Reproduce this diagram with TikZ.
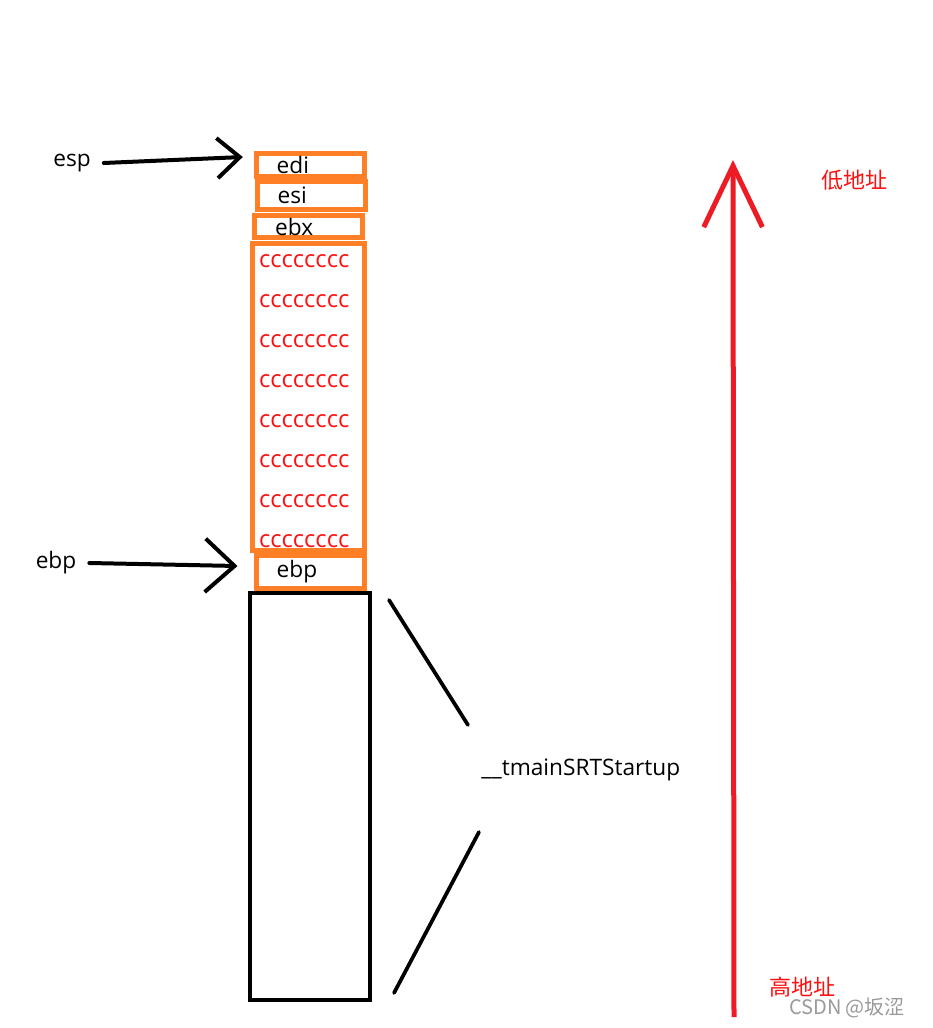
\documentclass[tikz,border=0pt]{standalone}
\usepackage{fontspec}
\setmainfont{Open Sans}
\newfontfamily\cjk{Noto Sans CJK SC}
\usetikzlibrary{arrows.meta}
\definecolor{boxorange}{HTML}{FF7F27}
\definecolor{addrred}{HTML}{ED1C24}
\definecolor{ccred}{HTML}{FF1010}

\begin{document}
\begin{tikzpicture}[x=0.75pt,y=-0.75pt,line width=3pt,
  font=\fontsize{17}{20}\selectfont,
  regbox/.style={draw=boxorange,line width=3.75pt,text width=50pt,
    inner xsep=15.5pt,inner ysep=0pt,align=left,minimum height=#1},
  ccrow/.style={text=ccred,anchor=west,inner sep=0pt,font=\fontsize{17.8}{20}\selectfont},
  ptr/.style={line cap=round,-{Straight Barb[length=#1]}},
  cnlabel/.style={text=ccred,font=\cjk\fontsize{16.5}{18}\selectfont}]
\useasboundingbox (0,0) rectangle (932,1028);
% 栈帧（低地址在上）
\node[regbox=17.25pt] (edi) at (310,165) {edi};
\node[regbox=21pt] (esi) at (311,195.5) {esi};
\node[regbox=16.5pt] (ebx) at (308.5,226.5) {ebx};
\node[draw=boxorange,line width=3.75pt,minimum width=84pt,minimum height=230.25pt,
  inner sep=0pt] (cc) at (308.5,396.5) {};
\foreach \i in {1,...,8}
  \node[ccrow] (cc\i) at (257,{261+40*(\i-1)}) {cccccccc};
\node[regbox=24.75pt] (ebpbox) at (310,572) {ebp};
\node[draw,line width=3pt,minimum width=90pt,minimum height=305.25pt,
  inner sep=0pt] (caller) at (310,796.5) {};
% 寄存器指针
\node (esp) at (72,163) {esp};
\node (ebp) at (56,563) {ebp};
\draw[ptr={17pt,width=30pt}] ([xshift=5pt]esp.east) -- ([shift={(-8pt,6pt)}]edi.west);
\draw[ptr={22pt,width=40pt}] ([xshift=5pt]ebp.east) -- ([shift={(-12pt,4.5pt)}]ebpbox.west);
% 调用者栈帧
\node[anchor=west] (startup) at (475,770) {\_\_tmainSRTStartup};
\coordinate (up1) at (389,600);
\coordinate (up2) at (468,725);
\coordinate (dn1) at (479,832);
\coordinate (dn2) at (394,993);
\draw[line cap=round,line width=2.8pt] (up1) -- (up2);
\draw[line cap=round,line width=2.8pt] (dn1) -- (dn2);
% 地址增长方向
\coordinate (hi) at (734,1017);
\coordinate (lo) at (733,160);
\draw[addrred,line width=3.75pt,-{Straight Barb[length=46pt,width=44pt]}] (hi) -- (lo);
\node[cnlabel] (lowaddr) at (854,180) {低地址};
\node[cnlabel] (highaddr) at (802,987) {高地址};
\node[text=black!40,font=\cjk\fontsize{15}{17}\selectfont] (mark) at (847,1008) {CSDN @坂涩};
\end{tikzpicture}
\end{document}
